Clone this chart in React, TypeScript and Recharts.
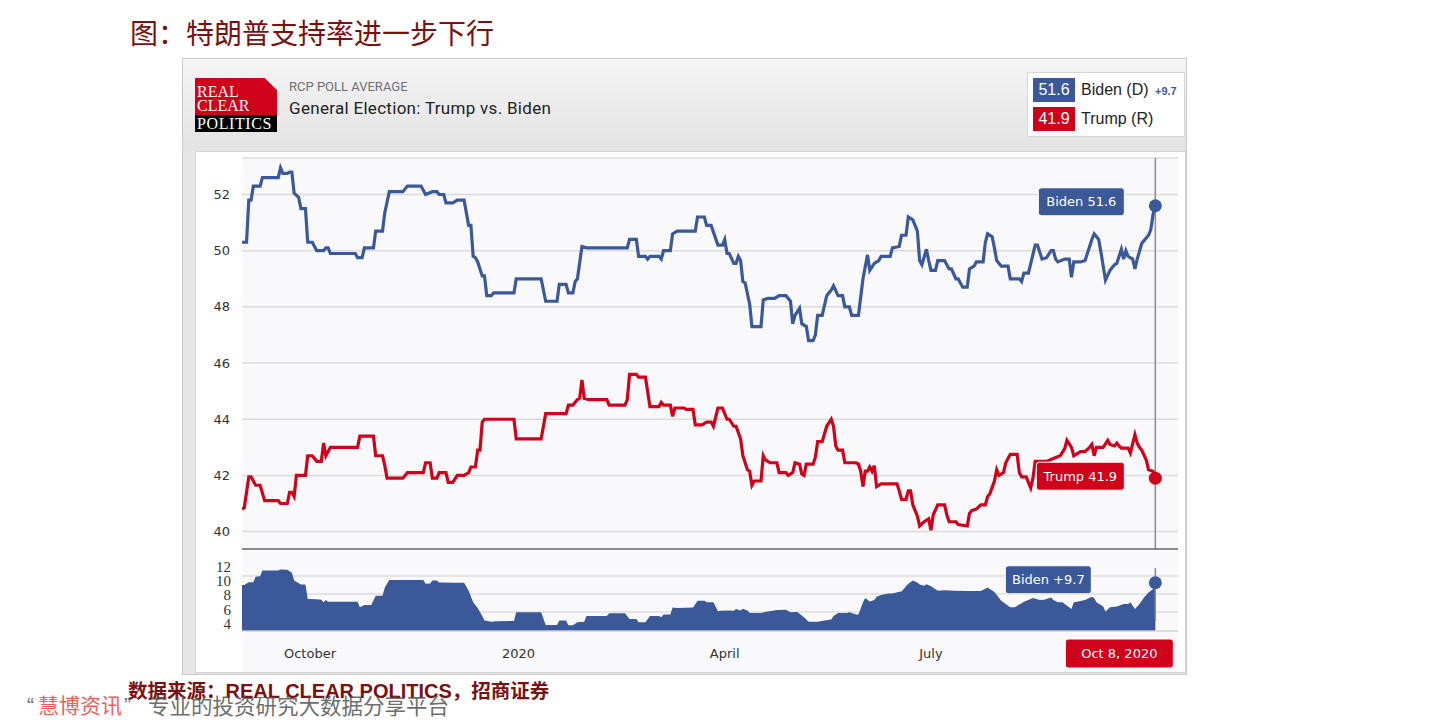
import React from 'react'
import {
  LineChart, Line, AreaChart, Area, XAxis, YAxis, CartesianGrid,
  ReferenceLine, ReferenceDot,
} from 'recharts'

const BLUE = '#3b5998'
const RED = '#d0021b'
const TICK_FONT = 'DejaVu Sans, Verdana, sans-serif'

// x = days since Sep 1, 2019 (last point = Oct 8, 2020)
const bidenPoints: [number, number][] = [
  [0, 50.3], [2, 50.3], [3, 51.8], [4, 51.8], [5, 52.3], [8, 52.3], [9, 52.6], [16, 52.6], [17, 52.95], [18, 52.75],
  [20, 52.75], [21, 52.8], [22, 52.8], [23, 52.05], [25, 51.9], [26, 51.5], [28, 51.5], [29, 50.3], [31, 50.3], [33, 50.0],
  [36, 50.0], [37, 50.1], [38, 50.1], [39, 49.9], [50, 49.9], [51, 49.75], [53, 49.75], [54, 50.1], [58, 50.1], [59, 50.7],
  [62, 50.7], [63, 51.35], [65, 52.1], [71, 52.1], [73, 52.3], [79, 52.3], [81, 52.0], [84, 52.1], [86, 52.1], [87, 52.0],
  [89, 52.0], [90, 51.7], [93, 51.7], [95, 51.8], [98, 51.8], [100, 50.9], [101, 50.9], [102, 49.8], [103, 49.75], [104, 49.6],
  [106, 49.1], [107, 49.1], [108, 48.4], [110, 48.4], [111, 48.5], [120, 48.5], [121, 49.0], [132, 49.0], [134, 48.2], [139, 48.2],
  [140, 48.8], [143, 48.8], [144, 48.5], [146, 48.5], [147, 48.9], [148, 49.0], [150, 50.15], [152, 50.1], [170, 50.1], [171, 50.4],
  [174, 50.4], [175, 49.8], [178, 49.8], [179, 49.7], [180, 49.8], [184, 49.8], [185, 49.7], [186, 50.0], [189, 50.0], [190, 50.6],
  [192, 50.7], [200, 50.7], [201, 51.2], [204, 51.2], [205, 50.9], [207, 50.9], [210, 50.2], [212, 50.2], [213, 50.4], [214, 49.9],
  [215, 49.9], [217, 49.55], [218, 49.55], [219, 49.8], [220, 49.65], [221, 48.9], [222, 48.85], [224, 48.1], [225, 47.3], [229, 47.3],
  [230, 48.25], [232, 48.3], [235, 48.3], [237, 48.4], [240, 48.4], [242, 48.2], [243, 47.4], [244, 47.7], [246, 47.95], [247, 47.4],
  [249, 47.3], [250, 46.8], [252, 46.8], [253, 47.0], [254, 47.7], [256, 47.7], [258, 48.4], [260, 48.6], [261, 48.75], [263, 48.4],
  [265, 48.4], [266, 48.0], [268, 48.0], [269, 47.7], [272, 47.7], [274, 49.0], [276, 49.85], [277, 49.3], [279, 49.55], [281, 49.65],
  [282, 49.8], [286, 49.8], [287, 50.1], [290, 50.15], [291, 50.55], [293, 50.55], [294, 51.2], [296, 51.1], [298, 50.7], [299, 49.65],
  [300, 49.5], [302, 50.05], [303, 49.65], [304, 49.3], [306, 49.3], [307, 49.65], [310, 49.65], [312, 49.35], [313, 49.35], [315, 49.0],
  [316, 49.0], [318, 48.7], [320, 48.7], [321, 49.35], [323, 49.45], [324, 49.6], [327, 49.6], [328, 50.3], [329, 50.6], [331, 50.5],
  [332, 50.1], [333, 49.65], [335, 49.45], [338, 49.45], [339, 49.0], [343, 49.0], [344, 48.9], [345, 49.2], [347, 49.2], [350, 50.2],
  [351, 50.2], [353, 49.7], [355, 49.75], [357, 50.0], [358, 50.0], [359, 49.7], [360, 49.6], [363, 49.7], [365, 49.7], [366, 49.05],
  [367, 49.6], [370, 49.6], [372, 49.65], [373, 49.9], [375, 50.4], [376, 50.6], [378, 50.4], [379, 49.95], [381, 48.95], [383, 49.3],
  [385, 49.5], [386, 49.55], [388, 50.05], [389, 49.7], [390, 50.0], [391, 49.8], [393, 49.7], [394, 49.35], [395, 49.7], [397, 50.26],
  [400, 50.55], [401, 50.75], [402, 51.3], [403, 51.6],
]

const trumpPoints: [number, number][] = [
  [0, 40.8], [1, 40.85], [3, 41.95], [4, 41.95], [6, 41.65], [8, 41.65], [10, 41.1], [16, 41.1], [17, 41.0], [20, 41.0],
  [21, 41.4], [22, 41.4], [23, 41.25], [24, 42.0], [28, 42.0], [29, 42.7], [31, 42.7], [33, 42.5], [35, 42.5], [36, 43.15],
  [37, 42.7], [39, 43.0], [51, 43.0], [52, 43.4], [58, 43.4], [59, 42.7], [62, 42.7], [63, 42.35], [64, 41.9], [71, 41.9],
  [73, 42.1], [80, 42.1], [81, 42.45], [83, 42.45], [84, 41.9], [86, 41.9], [87, 42.1], [90, 42.1], [91, 41.75], [93, 41.75],
  [95, 42.0], [98, 42.0], [100, 42.1], [101, 42.3], [103, 42.3], [104, 42.9], [105, 42.9], [106, 43.9], [107, 44.0], [120, 44.0],
  [121, 43.3], [132, 43.3], [134, 44.2], [143, 44.2], [144, 44.5], [146, 44.5], [148, 44.7], [149, 44.75], [150, 45.4], [151, 44.75],
  [153, 44.7], [161, 44.7], [162, 44.5], [169, 44.5], [170, 44.7], [171, 45.6], [174, 45.6], [175, 45.5], [178, 45.5], [180, 44.45],
  [184, 44.45], [185, 44.6], [186, 44.5], [189, 44.5], [190, 44.1], [191, 44.4], [195, 44.4], [196, 44.35], [199, 44.35], [200, 43.8],
  [203, 43.8], [205, 43.9], [207, 43.9], [208, 43.75], [210, 44.4], [212, 44.4], [214, 44.0], [215, 44.0], [217, 43.75], [218, 43.75],
  [220, 43.3], [221, 42.7], [223, 42.2], [224, 42.15], [225, 41.65], [226, 41.8], [229, 41.8], [230, 42.7], [231, 42.55], [233, 42.45],
  [236, 42.45], [237, 42.1], [240, 42.1], [241, 42.0], [243, 42.1], [244, 42.45], [246, 42.4], [247, 42.05], [248, 42.0], [249, 42.4],
  [252, 42.4], [253, 42.65], [254, 43.2], [256, 43.2], [258, 43.75], [260, 44.0], [261, 43.75], [262, 43.05], [263, 42.9], [265, 42.9],
  [266, 42.45], [271, 42.45], [272, 42.4], [273, 42.15], [274, 41.6], [275, 42.15], [276, 42.15], [277, 42.3], [278, 42.15], [279, 42.35],
  [280, 41.6], [282, 41.7], [289, 41.7], [290, 41.45], [291, 41.15], [293, 41.15], [294, 41.45], [295, 41.45], [296, 40.95], [298, 40.55],
  [299, 40.2], [301, 40.35], [303, 40.45], [304, 40.05], [305, 40.6], [307, 40.95], [310, 40.95], [311, 40.6], [312, 40.35], [315, 40.35],
  [316, 40.25], [320, 40.2], [321, 40.65], [322, 40.75], [324, 40.8], [326, 40.95], [328, 40.95], [329, 41.25], [330, 41.35], [332, 41.8],
  [333, 42.2], [334, 42.0], [336, 42.1], [337, 42.45], [339, 42.75], [342, 42.75], [343, 42.1], [344, 41.95], [346, 41.95], [347, 41.75],
  [348, 41.55], [349, 41.9], [350, 42.5], [355, 42.5], [358, 42.6], [361, 42.7], [363, 42.95], [364, 43.25], [366, 43.0], [367, 42.7],
  [370, 42.85], [372, 42.85], [374, 43.0], [375, 43.1], [376, 42.7], [377, 43.0], [380, 43.0], [382, 43.25], [383, 43.1], [385, 43.05],
  [386, 43.15], [387, 43.05], [388, 42.97], [391, 42.97], [392, 42.8], [394, 43.45], [395, 43.15], [396, 43.0], [397, 42.9], [399, 42.55],
  [400, 42.2], [402, 42.15], [403, 41.9],
]

const spreadPoints: [number, number][] = [
  [0, 9.4], [1, 9.4], [3, 9.77], [5, 9.77], [6, 10.55], [8, 10.6], [9, 11.4], [16, 11.4], [17, 11.55], [20, 11.5],
  [22, 11.1], [23, 10.0], [26, 9.45], [28, 9.45], [29, 7.45], [33, 7.4], [35, 7.35], [36, 6.98], [37, 7.3], [38, 7.07],
  [51, 7.05], [52, 6.3], [54, 6.6], [57, 6.6], [59, 7.9], [62, 7.9], [63, 9.05], [65, 10.1], [80, 10.1], [81, 9.55],
  [83, 9.6], [84, 10.0], [86, 10.0], [87, 9.75], [95, 9.7], [98, 9.7], [100, 8.6], [102, 7.0], [104, 6.2], [106, 5.1],
  [107, 4.45], [110, 4.3], [112, 4.35], [120, 4.4], [121, 5.6], [132, 5.6], [134, 3.85], [139, 3.85], [140, 4.45], [143, 4.45],
  [144, 3.8], [146, 3.8], [148, 4.2], [151, 4.3], [152, 5.1], [161, 5.1], [162, 5.45], [169, 5.45], [171, 4.65], [174, 4.65],
  [175, 4.2], [178, 4.2], [180, 5.1], [184, 5.1], [185, 4.9], [186, 5.3], [189, 5.3], [190, 6.28], [192, 6.2], [199, 6.25],
  [201, 7.2], [204, 7.2], [205, 7.0], [208, 7.0], [210, 5.75], [211, 5.8], [214, 5.85], [217, 5.8], [218, 6.05], [220, 5.85],
  [221, 6.1], [223, 5.85], [224, 5.5], [229, 5.5], [232, 5.7], [236, 5.9], [240, 5.95], [242, 5.6], [245, 5.65], [248, 4.9],
  [250, 4.3], [254, 4.3], [257, 4.45], [260, 4.6], [261, 5.1], [263, 5.5], [267, 5.5], [268, 5.6], [271, 5.3], [272, 5.3],
  [274, 7.0], [275, 7.6], [277, 7.1], [279, 7.3], [280, 7.75], [282, 8.0], [285, 8.2], [287, 8.2], [290, 8.45], [291, 8.5],
  [294, 9.55], [296, 10.0], [298, 9.75], [299, 9.45], [301, 9.3], [302, 9.5], [304, 9.2], [307, 8.6], [310, 8.65], [314, 8.6],
  [320, 8.55], [326, 8.55], [329, 9.05], [330, 8.85], [332, 8.4], [335, 7.2], [337, 6.75], [339, 6.3], [341, 6.3], [344, 6.85],
  [345, 7.05], [348, 7.45], [349, 7.6], [352, 7.3], [354, 7.35], [357, 7.65], [358, 7.3], [360, 7.0], [362, 7.0], [364, 6.5],
  [366, 6.05], [367, 7.0], [369, 7.1], [372, 7.3], [375, 7.75], [376, 7.6], [377, 7.0], [380, 6.4], [381, 5.7], [383, 6.3],
  [386, 6.4], [389, 6.75], [391, 6.75], [392, 7.0], [394, 6.05], [396, 6.75], [398, 7.65], [400, 8.35], [402, 8.85], [403, 9.7],
]

const monthTicks = [30, 122, 213, 304]
const monthLabels = ['October', '2020', 'April', 'July']
const pollTicks = [40, 42, 44, 46, 48, 50, 52]
const spreadTicks = [4, 6, 8, 10, 12]
const spreadGridLines = [5.64, 8.14, 10.64]
const lastDateLabel = 'Oct 8, 2020'

const dayDomain = [0, 413]
const pollDomain = [39.38, 53.3]
const spreadDomain = [3, 13]

const toRows = (pts: [number, number][]) => pts.map(([day, v]) => ({ day, v }))
const biden = toRows(bidenPoints)
const trump = toRows(trumpPoints)
const spread = toRows(spreadPoints)

const bidenLast = bidenPoints[bidenPoints.length - 1]
const trumpLast = trumpPoints[trumpPoints.length - 1]
const spreadLast = spreadPoints[spreadPoints.length - 1]

// dot at the last value with a tag box to its left
const endTag = (text: string, color: string, dx: number, dy: number, w: number) => (p: any) => (
  <g>
    <rect x={p.cx + dx} y={p.cy + dy} width={w} height={28} rx={3} fill={color} stroke="#ffffff" strokeWidth={1} />
    <text
      x={p.cx + dx + w / 2} y={p.cy + dy + 14} textAnchor="middle" dominantBaseline="central"
      fill="#fff" fontSize={13} fontFamily={TICK_FONT}
    >
      {text}
    </text>
    <circle cx={p.cx} cy={p.cy} r={6.5} fill={color} />
  </g>
)

const abs = (left: number, top: number, extra: React.CSSProperties = {}): React.CSSProperties => ({
  position: 'absolute', left, top, ...extra,
})

const CJK = '"Noto Sans CJK SC", sans-serif'
const SANS = '"Liberation Sans", Arial, sans-serif'

export default function App() {
  return (
    <div style={{ position: 'absolute', left: 0, top: 0, width: 1440, height: 723, background: '#fff', overflow: 'hidden' }}>
      {/* page title */}
      <div style={abs(130, 18, { fontFamily: CJK, fontSize: 28, lineHeight: '28px', color: '#7a1010', whiteSpace: 'nowrap' })}>
        图：特朗普支持率进一步下行
      </div>

      {/* outer frame */}
      <div style={abs(182, 58, { width: 1005, height: 617, background: '#e6e6e6', border: '1px solid #c9c9c9', boxSizing: 'border-box' })} />
      <div style={abs(183, 59, { width: 1003, height: 91, background: 'linear-gradient(#f5f5f5, #e3e3e3)' })} />

      {/* logo */}
      <div style={abs(195, 78, { width: 82, height: 54, background: RED, clipPath: 'polygon(0 0, 85% 0, 100% 22%, 100% 100%, 0 100%)' })}>
        <div style={abs(0, 37, { width: 82, height: 17, background: '#000' })} />
        <div style={abs(2, 6, { fontFamily: '"Liberation Serif", serif', fontSize: 16, lineHeight: '16px', color: '#fff' })}>REAL</div>
        <div style={abs(2, 20, { fontFamily: '"Liberation Serif", serif', fontSize: 16, lineHeight: '16px', color: '#fff' })}>CLEAR</div>
        <div style={abs(2, 38, { fontFamily: '"Liberation Serif", serif', fontSize: 16, lineHeight: '16px', color: '#fff', letterSpacing: 0.6 })}>POLITICS</div>
      </div>

      <div style={abs(289, 80, { fontFamily: 'Roboto, sans-serif', fontSize: 13, lineHeight: '13px', color: '#6f6f6f', whiteSpace: 'nowrap' })}>
        RCP POLL AVERAGE
      </div>
      <div style={abs(289, 100, { fontFamily: 'Roboto, sans-serif', fontSize: 17, lineHeight: '17px', letterSpacing: 0.3, color: '#222', whiteSpace: 'nowrap' })}>
        General Election: Trump vs. Biden
      </div>

      {/* legend */}
      <div style={abs(1027, 72, { width: 158, height: 65, background: '#fff', border: '1px solid #d6d6d6', boxSizing: 'border-box' })} />
      <div style={abs(1033, 78, { width: 42, height: 24, background: BLUE, color: '#fff', fontFamily: SANS, fontSize: 16, lineHeight: '24px', textAlign: 'center' })}>
        {bidenLast[1]}
      </div>
      <div style={abs(1081, 80, { fontFamily: SANS, fontSize: 16, lineHeight: '20px', color: '#222', whiteSpace: 'nowrap' })}>
        Biden (D)
      </div>
      <div style={abs(1155, 84, { fontFamily: SANS, fontSize: 11, fontWeight: 700, lineHeight: '14px', color: BLUE })}>
        +{spreadLast[1]}
      </div>
      <div style={abs(1033, 107, { width: 42, height: 24, background: RED, color: '#fff', fontFamily: SANS, fontSize: 16, lineHeight: '24px', textAlign: 'center' })}>
        {trumpLast[1]}
      </div>
      <div style={abs(1081, 109, { fontFamily: SANS, fontSize: 16, lineHeight: '20px', color: '#222', whiteSpace: 'nowrap' })}>
        Trump (R)
      </div>

      {/* inner panel */}
      <div style={abs(195, 151, { width: 991, height: 522, background: '#fff', border: '1px solid #d2d2d2', boxSizing: 'border-box' })} />
      <div style={abs(242, 158, { width: 936, height: 514, background: '#f9f9fc' })} />

      {/* polls */}
      <div style={abs(196, 152)}>
        <LineChart width={990} height={399} margin={{ top: 6, right: 8, bottom: 0, left: 0 }}>
          <CartesianGrid vertical={false} stroke="#dcdcdc" strokeWidth={1.5} />
          <XAxis
            type="number" dataKey="day" domain={dayDomain} allowDataOverflow
            tick={false} tickLine={false} height={2}
            axisLine={{ stroke: '#6e6e6e', strokeWidth: 1.5 }}
          />
          <YAxis
            type="number" domain={pollDomain} allowDataOverflow ticks={pollTicks} interval={0}
            width={46} tickLine={false} axisLine={false} tickMargin={6}
            tick={{ fontSize: 13, fill: '#333', fontFamily: TICK_FONT }}
          />
          <ReferenceLine x={bidenLast[0]} stroke="#8c8c8c" strokeWidth={1.5} />
          <Line data={biden} dataKey="v" type="linear" stroke={BLUE} strokeWidth={3.2} dot={false} isAnimationActive={false} />
          <Line data={trump} dataKey="v" type="linear" stroke={RED} strokeWidth={3.2} dot={false} isAnimationActive={false} />
          <ReferenceDot
            x={bidenLast[0]} y={bidenLast[1]} r={6} ifOverflow="visible"
            shape={endTag(`Biden ${bidenLast[1]}`, BLUE, -117, -18, 86)}
          />
          <ReferenceDot
            x={trumpLast[0]} y={trumpLast[1]} r={6} ifOverflow="visible"
            shape={endTag(`Trump ${trumpLast[1]}`, RED, -119, -16, 88)}
          />
        </LineChart>
      </div>

      {/* spread */}
      <div style={abs(196, 549)}>
        <AreaChart width={990} height={123} data={spread} margin={{ top: 10, right: 8, bottom: 0, left: 0 }}>
          <CartesianGrid vertical={false} horizontalValues={spreadGridLines} stroke="#dcdcdc" strokeWidth={1.5} />
          <XAxis
            type="number" dataKey="day" domain={dayDomain} allowDataOverflow
            ticks={monthTicks} interval={0}
            tickFormatter={(d: number) => monthLabels[monthTicks.indexOf(d)]}
            height={41} tickLine={false} tickMargin={12}
            axisLine={{ stroke: '#d0d0d0', strokeWidth: 1.5 }}
            tick={{ fontSize: 13, fill: '#333', fontFamily: TICK_FONT }}
          />
          <YAxis
            type="number" domain={spreadDomain} allowDataOverflow ticks={spreadTicks} interval={0}
            width={46} tickLine={false} axisLine={false} tickMargin={5}
            tick={{ fontSize: 15, fill: '#333', fontFamily: '"Liberation Serif", serif' }}
          />
          <Area
            dataKey="v" type="linear" stroke="none" fill={BLUE} fillOpacity={1}
            isAnimationActive={false}
          />
          <ReferenceLine
            x={spreadLast[0]}
            stroke="#8c8c8c"
            strokeWidth={1.5}
            ifOverflow="visible"
            shape={(p: any) => (
              <line x1={p.x1} y1={p.y1 - 10} x2={p.x2} y2={p.y2 + 9} stroke="#8c8c8c" strokeWidth={1.5} />
            )}
            label={(props: any) => {
              const vb = props.viewBox
              const bx = vb.x - 90
              const by = vb.y + vb.height + 8
              return (
                <g>
                  <rect x={bx} y={by} width={108} height={29} rx={3} fill={RED} stroke="#fff" />
                  <text
                    x={bx + 54} y={by + 14.5} textAnchor="middle" dominantBaseline="central"
                    fill="#fff" fontSize={13} fontFamily={TICK_FONT}
                  >
                    {lastDateLabel}
                  </text>
                </g>
              )
            }}
          />
          <ReferenceDot
            x={spreadLast[0]} y={spreadLast[1]} r={6} ifOverflow="visible"
            shape={endTag(`Biden +${spreadLast[1]}`, BLUE, -150, -17, 86)}
          />
        </AreaChart>
      </div>

      {/* source */}
      <div style={abs(128, 680, { fontFamily: CJK, fontSize: 19.5, lineHeight: '20px', fontWeight: 700, color: '#7a1010', whiteSpace: 'nowrap' })}>
        数据来源：<span style={{ fontFamily: SANS, fontSize: 20 }}>REAL CLEAR POLITICS</span>，招商证券
      </div>

      {/* watermark */}
      <div style={{ ...abs(0, 0), opacity: 0.85 }}>
        <div style={abs(27, 694, { fontFamily: SANS, fontSize: 21, lineHeight: '21px', color: '#555' })}>“</div>
        <div style={abs(38, 694, { fontFamily: CJK, fontSize: 21, lineHeight: '21px', color: '#e8453c', whiteSpace: 'nowrap' })}>慧博资讯</div>
        <div style={abs(124, 694, { fontFamily: SANS, fontSize: 21, lineHeight: '21px', color: '#555' })}>”</div>
        <div style={abs(148, 694, { fontFamily: CJK, fontSize: 21.5, lineHeight: '21px', color: '#555', whiteSpace: 'nowrap' })}>
          专业的投资研究大数据分享平台
        </div>
      </div>
    </div>
  )
}
